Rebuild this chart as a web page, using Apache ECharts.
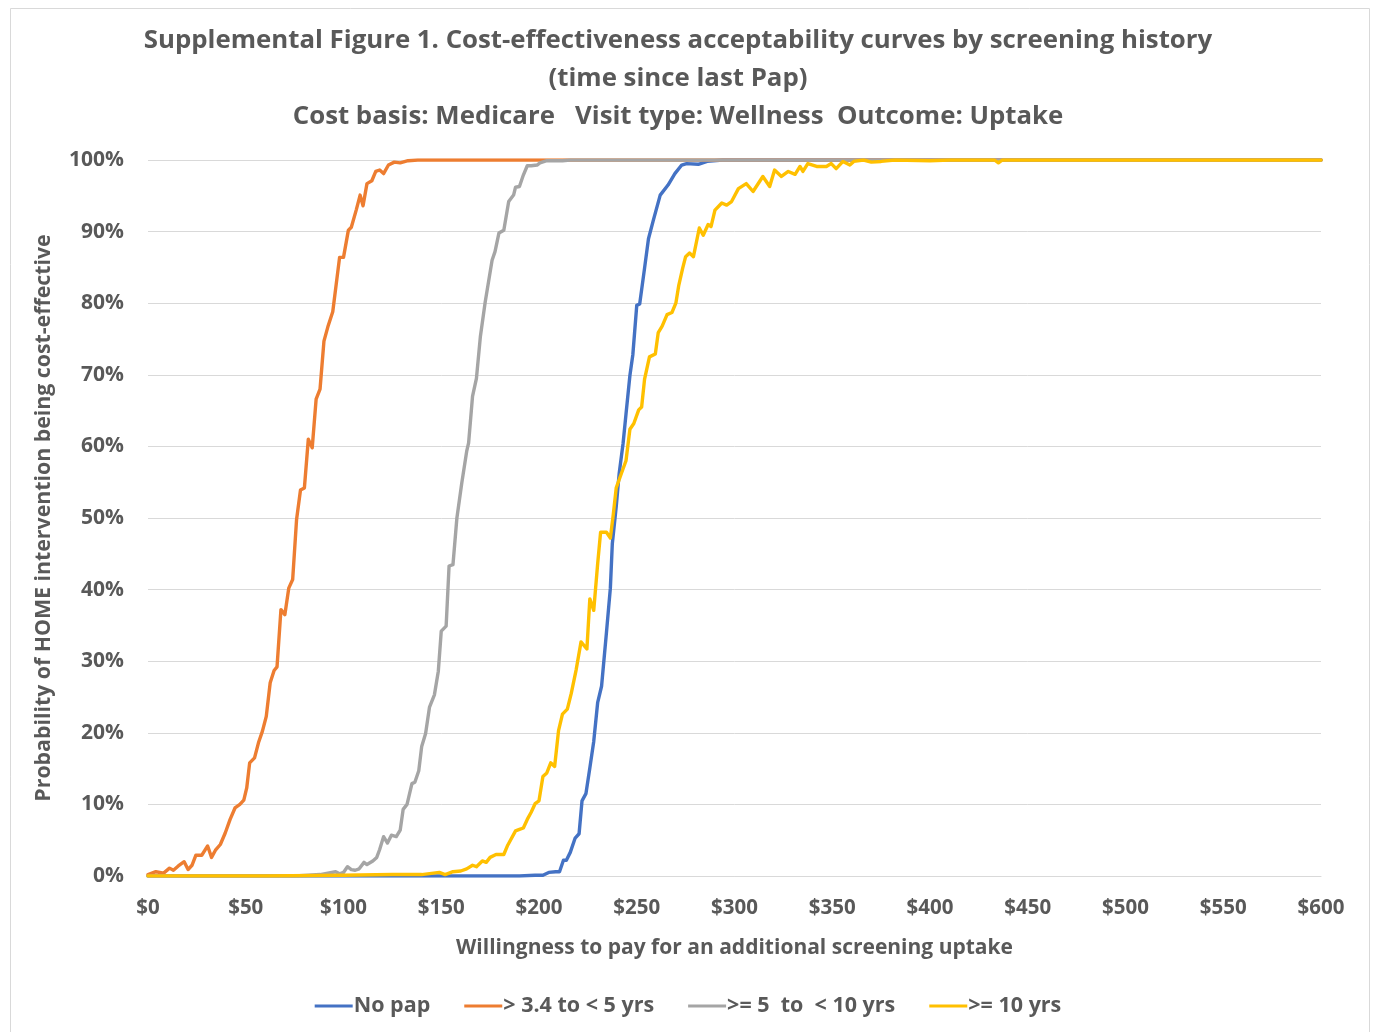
<!DOCTYPE html>
<html>
<head>
<meta charset="utf-8">
<script src="https://cdn.jsdelivr.net/npm/echarts@6/dist/echarts.min.js"></script>
<style>
html,body{margin:0;padding:0;background:#fff;}
#chart{width:1376px;height:1032px;}
</style>
</head>
<body>
<div id="chart"></div>
<script>
// Willingness to pay ($) vs probability cost-effective (%)
const titleLines = [
  'Supplemental Figure 1. Cost-effectiveness acceptability curves by screening history',
  '(time since last Pap)',
  'Cost basis: Medicare   Visit type: Wellness  Outcome: Uptake'
];
const seriesNames = ['No pap', '> 3.4 to < 5 yrs', '>= 5  to  < 10 yrs', '>= 10 yrs'];
const xTicks = [0, 50, 100, 150, 200, 250, 300, 350, 400, 450, 500, 550, 600];

const noPap = [
  [0,0],[150,0],[190,0],[198,0.1],[202,0.1],[205,0.5],[208.5,0.6],[210.5,0.6],[212.5,2.2],[214,2.2],
  [216,3.3],[218.5,5.3],[220.5,5.9],[222,10.5],[224,11.5],[226,15.1],[228,18.8],[230,24.2],[232,26.5],
  [234.5,34.0],[236.5,40.2],[237.5,46.4],[239.5,51.6],[241,56.2],[243,60.4],[244.5,64.5],[246.5,69.9],
  [248,72.8],[250,79.7],[251.5,79.9],[254,84.9],[256,89.0],[258.5,91.6],[262,95.1],[266,96.5],
  [269.5,98.1],[273,99.3],[275.5,99.5],[281.5,99.4],[286,99.8],[294,100],[600,100]
];
const over3to5 = [
  [0,0.2],[4,0.6],[8,0.4],[11,1.1],[13,0.8],[15.5,1.4],[18.5,2.0],[20.5,0.9],[22.5,1.5],[24.5,2.9],
  [27.5,2.9],[30.5,4.2],[32.5,2.6],[34.5,3.6],[37,4.4],[39.5,6.0],[42,7.9],[44.5,9.5],[47,10.0],
  [49,10.6],[50.5,12.3],[52,15.8],[54.5,16.5],[56.5,18.6],[58.5,20.2],[60.5,22.3],[62.5,27.0],
  [64.5,28.7],[66,29.2],[68,37.2],[70,36.5],[72,40.2],[74,41.4],[76,49.8],[78,53.9],[80,54.2],
  [82,61.0],[84,59.8],[86,66.6],[88,68.0],[90,74.7],[92,76.7],[94.5,78.8],[98,86.4],[100,86.4],
  [102.5,90.2],[104,90.6],[106.5,93.0],[108.5,95.1],[110,93.6],[112,96.7],[114.5,97.1],[116.5,98.4],
  [118.5,98.6],[120.5,98.1],[123,99.3],[126,99.7],[129,99.6],[133,99.9],[138,100],[600,100]
];
const from5to10 = [
  [0,0],[75,0],[82,0.1],[88,0.2],[92,0.4],[96,0.6],[98,0.3],[100,0.5],[102,1.3],[104,0.9],[106,0.8],
  [108,1.0],[110.5,1.9],[112,1.6],[115,2.1],[117,2.6],[118.5,3.7],[120.5,5.5],[122.5,4.6],[124.5,5.7],
  [127,5.5],[129,6.4],[130.5,9.3],[132.5,10.0],[135,12.9],[136.5,13.1],[138.5,14.7],[140,18.1],
  [142,19.9],[144,23.6],[146.5,25.3],[148.5,28.6],[150,34.2],[152.5,34.9],[154,43.3],[156,43.5],
  [158,50.0],[160.5,54.9],[163,59.3],[164,60.5],[166,67.0],[168,69.5],[170,75.3],[172.5,80.2],
  [176,86.0],[177.5,87.2],[179.5,89.8],[182,90.2],[184.5,94.2],[187,95.1],[188,96.2],[190,96.3],
  [192,97.9],[194,99.2],[196,99.2],[199,99.3],[200.5,99.6],[204,99.9],[212,99.9],[216,100],[600,100]
];
const over10 = [
  [0,0],[60,0],[100,0.1],[125,0.2],[140,0.2],[149,0.5],[152,0.2],[156,0.6],[160,0.7],[163,1.0],
  [166,1.5],[168,1.3],[171,2.1],[173,1.9],[175,2.6],[178,3.0],[182,3.0],[184,4.3],[188,6.3],[190,6.5],
  [192,6.7],[194,7.9],[196,8.9],[198,10.1],[200,10.5],[202,13.9],[204,14.4],[206,15.8],[208,15.3],
  [210,20.3],[212,22.6],[214.5,23.3],[216.5,25.5],[219,28.8],[221.5,32.7],[224.5,31.7],[226,38.7],
  [228,37.1],[230,43.6],[231.5,48.0],[234.5,48.0],[236.5,47.2],[238,50.5],[239.5,54.2],[242.5,56.5],
  [244.5,58.0],[246.5,62.4],[248.5,63.2],[251,65.1],[252.5,65.5],[254,69.4],[256.5,72.5],[259.5,72.9],
  [261,75.9],[263,76.8],[265.5,78.4],[268,78.7],[270,80.0],[271.5,82.5],[273.5,84.9],[275,86.5],
  [277,87.0],[279,86.5],[282,90.5],[284,89.5],[286.5,91.0],[288,90.7],[290,93.0],[293.5,94.0],
  [296,93.7],[298.5,94.2],[302,96.0],[306,96.7],[309.5,95.6],[314.5,97.7],[318,96.3],[320.5,98.6],
  [324,97.7],[327.5,98.4],[331,98.0],[333.5,99.1],[335,98.4],[337.5,99.5],[342,99.1],[347,99.1],
  [349.5,99.5],[352,98.8],[355.5,99.8],[359,99.3],[361,99.8],[366,100],[370,99.7],[375,99.8],
  [382,100],[400,99.9],[410,100],[433,100],[435,99.6],[437,100],[600,100]
];

const colors = ['#4472C4', '#ED7D31', '#A5A5A5', '#FFC000'];
const seriesData = [noPap, over3to5, from5to10, over10];
const FONT = '"Open Sans"';
const TXT = '#595959';

const chart = echarts.init(document.getElementById('chart'), null, {renderer: 'canvas'});
chart.setOption({
  animation: false,
  backgroundColor: '#fff',
  title: titleLines.map((t, i) => ({
    text: t,
    left: 673,
    textAlign: 'center',
    top: [23, 61, 99][i],
    textStyle: {fontFamily: FONT, fontWeight: 'bold', fontSize: 25.8, color: TXT}
  })),
  graphic: [{
    type: 'rect', left: 8, top: 6,
    shape: {width: 1359, height: 1040},
    style: {fill: 'none', stroke: '#D9D9D9', lineWidth: 1},
    silent: true
  }],
  grid: {left: 148, right: 55, top: 160, bottom: 156, containLabel: false},
  legend: {
    data: seriesNames,
    bottom: 10,
    left: 'center',
    itemWidth: 38,
    itemHeight: 3,
    itemGap: 34,
    icon: 'rect',
    textStyle: {fontFamily: FONT, fontWeight: 'bold', fontSize: 21.5, color: TXT, padding: [0, 0, 0, -4]}
  },
  xAxis: {
    type: 'value', min: 0, max: 600, interval: 50,
    name: 'Willingness to pay for an additional screening uptake',
    nameLocation: 'middle', nameGap: 62,
    nameTextStyle: {fontFamily: FONT, fontWeight: 'bold', fontSize: 21, color: TXT},
    axisLine: {show: true, lineStyle: {color: '#D9D9D9', width: 1}},
    axisTick: {show: false},
    splitLine: {show: false},
    axisLabel: {formatter: v => '$' + v, fontFamily: FONT, fontWeight: 'bold', fontSize: 20.5, color: TXT, margin: 22}
  },
  yAxis: {
    type: 'value', min: 0, max: 100, interval: 10,
    name: 'Probability of HOME intervention being cost-effective',
    nameLocation: 'middle', nameGap: 94, nameRotate: 90,
    nameTextStyle: {fontFamily: FONT, fontWeight: 'bold', fontSize: 21.3, color: TXT},
    axisLine: {show: false},
    axisTick: {show: false},
    splitLine: {show: true, lineStyle: {color: '#D9D9D9', width: 1}},
    axisLabel: {formatter: v => v + '%', fontFamily: FONT, fontWeight: 'bold', fontSize: 21, color: TXT, margin: 24}
  },
  series: seriesData.map((d, i) => ({
    name: seriesNames[i],
    type: 'line',
    data: d,
    showSymbol: false,
    symbol: 'none',
    smooth: false,
    color: colors[i],
    lineStyle: {width: 3.4, color: colors[i], cap: 'round', join: 'round'},
    itemStyle: {color: colors[i]},
    z: 2 + i
  }))
});
</script>
</body>
</html>
